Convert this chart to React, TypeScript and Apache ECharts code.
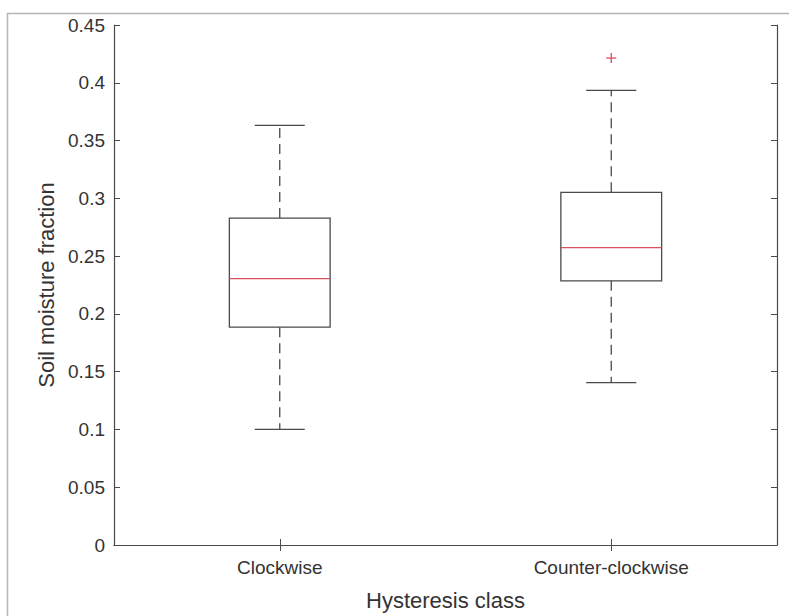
import React, { useEffect, useRef } from "react";
import * as echarts from "echarts";

const categories = ["Clockwise", "Counter-clockwise"];
const whiskerLow = [0.1, 0.1405];
const quartile1 = [0.1885, 0.2286];
const medians = [0.2306, 0.2573];
const quartile3 = [0.2829, 0.3052];
const whiskerHigh = [0.3631, 0.3935];
const outlierCategory = [1];
const outlierValue = [0.4214];
const yTicks = [0, 0.05, 0.1, 0.15, 0.2, 0.25, 0.3, 0.35, 0.4, 0.45];

const AXIS_COLOR = "#4a4a4a";
const TEXT_COLOR = "#333333";
const BOX_COLOR = "#4a4a4a";
const RED = "#d9505f";
const FONT = "'Liberation Sans', Arial, Helvetica, sans-serif";

export default function App() {
  const ref = useRef<HTMLDivElement>(null);

  useEffect(() => {
    if (!ref.current) return;
    const chart = echarts.init(ref.current, undefined, { renderer: "svg" });

    const boxData = categories.map((_, i) => [
      i,
      whiskerLow[i],
      quartile1[i],
      medians[i],
      quartile3[i],
      whiskerHigh[i],
    ]);
    const outlierData = outlierCategory.map((c, i) => [c, outlierValue[i]]);

    const option: any = {
      animation: false,
      backgroundColor: "#ffffff",
      textStyle: { fontFamily: FONT },
      grid: { left: 114, right: 12, top: 25, bottom: 68, containLabel: false },
      xAxis: [
        {
          type: "category",
          data: categories,
          boundaryGap: true,
          position: "bottom",
          name: "Hysteresis class",
          nameLocation: "middle",
          nameGap: 44,
          nameTextStyle: { fontSize: 22, color: TEXT_COLOR, fontFamily: FONT },
          axisLine: { show: true, lineStyle: { color: AXIS_COLOR, width: 1.2 } },
          axisTick: { show: true, inside: true, alignWithLabel: true, length: 6, lineStyle: { color: AXIS_COLOR } },
          axisLabel: { fontSize: 19, color: TEXT_COLOR, margin: 13, fontFamily: FONT },
          splitLine: { show: false },
        },
        {
          type: "category",
          data: categories,
          boundaryGap: true,
          position: "top",
          axisLine: { show: true, lineStyle: { color: AXIS_COLOR, width: 1.2 } },
          axisTick: { show: true, inside: true, alignWithLabel: true, length: 6, lineStyle: { color: AXIS_COLOR } },
          axisLabel: { show: false },
          splitLine: { show: false },
        },
      ],
      yAxis: [
        {
          type: "value",
          min: yTicks[0],
          max: yTicks[yTicks.length - 1],
          interval: 0.05,
          position: "left",
          name: "Soil moisture fraction",
          nameLocation: "middle",
          nameGap: 57,
          nameTextStyle: { fontSize: 22, color: TEXT_COLOR, fontFamily: FONT },
          axisLine: { show: true, lineStyle: { color: AXIS_COLOR, width: 1.2 } },
          axisTick: { show: true, inside: true, length: 6, lineStyle: { color: AXIS_COLOR } },
          axisLabel: {
            fontSize: 19,
            color: TEXT_COLOR,
            margin: 9,
            fontFamily: FONT,
            formatter: (v: number) => String(parseFloat(v.toFixed(2))),
          },
          splitLine: { show: false },
        },
        {
          type: "value",
          min: yTicks[0],
          max: yTicks[yTicks.length - 1],
          interval: 0.05,
          position: "right",
          axisLine: { show: true, lineStyle: { color: AXIS_COLOR, width: 1.2 } },
          axisTick: { show: true, inside: true, length: 6, lineStyle: { color: AXIS_COLOR } },
          axisLabel: { show: false },
          splitLine: { show: false },
        },
      ],
      graphic: [
        {
          type: "line",
          shape: { x1: 7, y1: 13.5, x2: 789, y2: 13.5 },
          style: { stroke: "#b5b5b5", lineWidth: 1.5 },
          silent: true,
        },
        {
          type: "line",
          shape: { x1: 7.5, y1: 13, x2: 7.5, y2: 616 },
          style: { stroke: "#b5b5b5", lineWidth: 1.5 },
          silent: true,
        },
      ],
      series: [
        {
          type: "custom",
          xAxisIndex: 0,
          yAxisIndex: 0,
          data: boxData,
          renderItem: (params: any, api: any) => {
            const idx = api.value(0);
            const band = api.size([1, 0])[0];
            const boxW = band * 0.304;
            const capW = band * 0.151;
            const pLow = api.coord([idx, api.value(1)]);
            const pQ1 = api.coord([idx, api.value(2)]);
            const pMed = api.coord([idx, api.value(3)]);
            const pQ3 = api.coord([idx, api.value(4)]);
            const pHigh = api.coord([idx, api.value(5)]);
            const cx = pQ1[0];
            const lineStyle = { stroke: BOX_COLOR, lineWidth: 1.3, fill: "none" };
            const dashStyle = { stroke: BOX_COLOR, lineWidth: 1.3, lineDash: [10, 6] };
            return {
              type: "group",
              children: [
                {
                  type: "line",
                  shape: { x1: cx, y1: pQ3[1], x2: cx, y2: pHigh[1] },
                  style: dashStyle,
                },
                {
                  type: "line",
                  shape: { x1: cx, y1: pQ1[1], x2: cx, y2: pLow[1] },
                  style: dashStyle,
                },
                {
                  type: "line",
                  shape: { x1: cx - capW / 2, y1: pHigh[1], x2: cx + capW / 2, y2: pHigh[1] },
                  style: lineStyle,
                },
                {
                  type: "line",
                  shape: { x1: cx - capW / 2, y1: pLow[1], x2: cx + capW / 2, y2: pLow[1] },
                  style: lineStyle,
                },
                {
                  type: "rect",
                  shape: { x: cx - boxW / 2, y: pQ3[1], width: boxW, height: pQ1[1] - pQ3[1] },
                  style: lineStyle,
                },
                {
                  type: "line",
                  shape: { x1: cx - boxW / 2, y1: pMed[1], x2: cx + boxW / 2, y2: pMed[1] },
                  style: { stroke: RED, lineWidth: 1.3 },
                },
              ],
            };
          },
        },
        {
          type: "custom",
          xAxisIndex: 0,
          yAxisIndex: 0,
          data: outlierData,
          renderItem: (params: any, api: any) => {
            const p = api.coord([api.value(0), api.value(1)]);
            const h = 5;
            const st = { stroke: RED, lineWidth: 1.3 };
            return {
              type: "group",
              children: [
                { type: "line", shape: { x1: p[0] - h, y1: p[1], x2: p[0] + h, y2: p[1] }, style: st },
                { type: "line", shape: { x1: p[0], y1: p[1] - h, x2: p[0], y2: p[1] + h }, style: st },
              ],
            };
          },
        },
      ],
    };

    chart.setOption(option);
    return () => chart.dispose();
  }, []);

  return (
    <div
      ref={ref}
      style={{ position: "fixed", left: 0, top: 0, width: 789, height: 616, background: "#fff" }}
    />
  );
}
